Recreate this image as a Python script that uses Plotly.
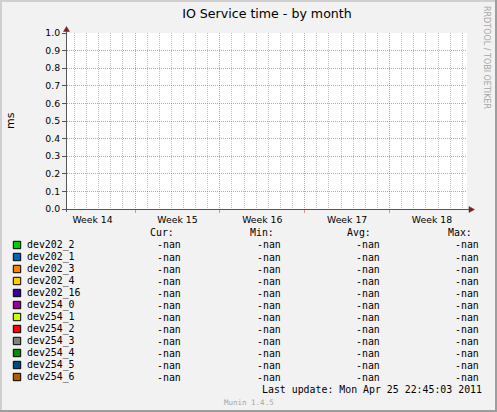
import math
import pandas as pd
import plotly.graph_objects as go

W, H = 497, 412
NAN = float("nan")

# ---------------- data ----------------
series_names = ["dev202_2", "dev202_1", "dev202_3", "dev202_4", "dev202_16", "dev254_0",
                "dev254_1", "dev254_2", "dev254_3", "dev254_4", "dev254_5", "dev254_6"]
series_colors = ["#00CC00", "#0066B3", "#FF8000", "#FFCC00", "#330099", "#990099",
                 "#CCFF00", "#FF0000", "#808080", "#008F00", "#00487D", "#B35A00"]
cur_values = [NAN, NAN, NAN, NAN, NAN, NAN, NAN, NAN, NAN, NAN, NAN, NAN]
min_values = [NAN, NAN, NAN, NAN, NAN, NAN, NAN, NAN, NAN, NAN, NAN, NAN]
avg_values = [NAN, NAN, NAN, NAN, NAN, NAN, NAN, NAN, NAN, NAN, NAN, NAN]
max_values = [NAN, NAN, NAN, NAN, NAN, NAN, NAN, NAN, NAN, NAN, NAN, NAN]
sample_time = ["2011-04-25 22:45:03"]

week_starts = ["2011-04-04", "2011-04-11", "2011-04-18", "2011-04-25", "2011-05-02"]
week_labels = ["Week 14", "Week 15", "Week 16", "Week 17", "Week 18"]
y_ticks = [0.0, 0.1, 0.2, 0.3, 0.4, 0.5, 0.6, 0.7, 0.8, 0.9, 1.0]
x_range = ["2011-04-05 09:22:00", "2011-05-08 09:22:00"]
y_range = [0.0, 1.0]

title_text = "IO Service time - by month"
y_title = "ms"
column_headers = ["Cur:", "Min:", "Avg:", "Max:"]
last_update = "Last update: Mon Apr 25 22:45:03 2011"
footer = "Munin 1.4.5"
watermark = "RRDTOOL / TOBI OETIKER"

# ---------------- style ----------------
BG = "#F2F2F2"
AXIS = "#555555"
ARROW = "#7F1F1F"
MGRID = "rgba(230,70,70,0.6)"
GRID = "rgba(140,140,140,0.5)"
SANS = "DejaVu Sans"
MONO = "DejaVu Sans Mono"

def px(x):
    return x / W

def py(y):
    return 1 - y / H

def fmt(v):
    return "-nan" if (v is None or (isinstance(v, float) and math.isnan(v))) else "%.2f" % v

PL, PR, PT, PB = 67, 467, 33, 209

# labels sit in the middle of each week period
week_mids = [(pd.Timestamp(d) + pd.Timedelta(hours=84)).strftime("%Y-%m-%d %H:%M:%S") for d in week_starts]
# daily minor grid, skipping the week boundaries
week_set = set(pd.Timestamp(d) for d in week_starts)
day_lines = [d.strftime("%Y-%m-%d") for d in pd.date_range(week_starts[0], x_range[1], freq="D")
             if d not in week_set]

fig = go.Figure()
for i, name in enumerate(series_names):
    fig.add_trace(go.Scatter(x=sample_time, y=[cur_values[i]], mode="lines",
                             name=name, line=dict(color=series_colors[i], width=1),
                             showlegend=False, hoverinfo="skip"))
# helper trace for the label axis
fig.add_trace(go.Scatter(x=sample_time, y=[cur_values[0]], xaxis="x2", mode="lines",
                         showlegend=False, hoverinfo="skip"))

tickfont = dict(family=SANS, size=9.3, color="#000000")
fig.update_layout(
    width=W, height=H, autosize=False,
    margin=dict(l=0, r=0, t=0, b=0, pad=0, autoexpand=False),
    paper_bgcolor=BG, plot_bgcolor="#FFFFFF",
    showlegend=False,
    title=dict(text=title_text, x=267 / W, xref="paper", xanchor="center",
               y=py(13.5), yref="paper", yanchor="middle", automargin=False,
               font=dict(family=SANS, size=12.6, color="#000000")),
    xaxis=dict(
        type="date", range=x_range, domain=[px(PL), px(PR)], automargin=False,
        tickmode="array", tickvals=week_starts, ticktext=["", "", "", "", ""],
        showgrid=True, gridcolor=MGRID, griddash="1px,1px", gridwidth=1,
        minor=dict(tickmode="array", tickvals=day_lines,
                   showgrid=True, gridcolor=GRID, griddash="1px,1px", gridwidth=1,
                   ticks=""),
        ticks="outside", ticklen=3, tickcolor=MGRID, tickwidth=1,
        showline=True, linecolor=AXIS, linewidth=1,
        zeroline=False, fixedrange=True, tickfont=tickfont,
    ),
    xaxis2=dict(
        type="date", range=x_range, overlaying="x", side="bottom", anchor="y",
        automargin=False,
        tickmode="array", tickvals=week_mids, ticktext=week_labels,
        showgrid=False, ticks="outside", ticklen=2, tickcolor="rgba(0,0,0,0)",
        showline=False, zeroline=False, fixedrange=True, tickfont=tickfont,
    ),
    yaxis=dict(
        range=y_range, domain=[py(PB), py(PT)], automargin=False,
        tickmode="array", tickvals=y_ticks, tickformat=".1f",
        showgrid=True, gridcolor=MGRID, griddash="1px,1px", gridwidth=1,
        ticks="outside", ticklen=4, tickcolor=AXIS, tickwidth=1,
        showline=True, linecolor=AXIS, linewidth=1,
        zeroline=False, fixedrange=True, tickfont=tickfont,
    ),
)

shapes = []
ann = []

# frame shading
shapes.append(dict(type="rect", xref="paper", yref="paper", x0=0, x1=1, y0=py(2), y1=1,
                   fillcolor="#CFCFCF", line=dict(width=0), layer="below"))
shapes.append(dict(type="rect", xref="paper", yref="paper", x0=0, x1=px(2), y0=0, y1=1,
                   fillcolor="#CFCFCF", line=dict(width=0), layer="below"))
shapes.append(dict(type="rect", xref="paper", yref="paper", x0=px(W - 2), x1=1, y0=0, y1=1,
                   fillcolor="#9E9E9E", line=dict(width=0), layer="below"))
shapes.append(dict(type="rect", xref="paper", yref="paper", x0=0, x1=1, y0=0, y1=py(H - 2),
                   fillcolor="#9E9E9E", line=dict(width=0), layer="below"))

# axis extensions and arrows
shapes.append(dict(type="line", xref="paper", yref="paper", x0=px(PL - 0.5), x1=px(PL - 0.5),
                   y0=py(PB + 3), y1=py(PT - 3), line=dict(color=AXIS, width=1)))
shapes.append(dict(type="line", xref="paper", yref="paper", x0=px(PL - 4), x1=px(PR + 3),
                   y0=py(PB + 0.5), y1=py(PB + 0.5), line=dict(color=AXIS, width=1)))
shapes.append(dict(type="path", xref="paper", yref="paper",
                   path="M %f,%f L %f,%f L %f,%f Z" % (px(PL - 3.5), py(PT - 1.5), px(PL + 2.5), py(PT - 1.5),
                                                       px(PL - 0.5), py(PT - 6.5)),
                   fillcolor=ARROW, line=dict(color=ARROW, width=0.5)))
shapes.append(dict(type="path", xref="paper", yref="paper",
                   path="M %f,%f L %f,%f L %f,%f Z" % (px(PR + 2), py(PB - 2.5), px(PR + 2), py(PB + 3.5),
                                                       px(PR + 7.5), py(PB + 0.5)),
                   fillcolor=ARROW, line=dict(color=ARROW, width=0.5)))

def text(x, y, s, size=9.9, family=MONO, color="#000000", xanchor="left", angle=0):
    ann.append(dict(xref="paper", yref="paper", x=px(x), y=py(y), text=s, showarrow=False,
                    xanchor=xanchor, yanchor="middle", borderpad=0, borderwidth=0,
                    textangle=angle, font=dict(family=family, size=size, color=color)))

# y title and watermark
text(11, 121, y_title, size=11, family=SANS, xanchor="center", angle=-90)
text(487, 57, watermark, size=8, family=SANS, color="#A6A6A6", xanchor="center", angle=90)

# legend table
col_head_x = [150, 250, 346.7, 447.7]
col_val_x = [156.7, 256.7, 356, 454.7]
for hx, h in zip(col_head_x, column_headers):
    text(hx, 232.3, h)
ROW0, ROWSTEP = 245, 12
for i, name in enumerate(series_names):
    ry = ROW0 + ROWSTEP * i
    shapes.append(dict(type="rect", xref="paper", yref="paper",
                       x0=px(13.3), x1=px(20.7), y0=py(ry + 3.7), y1=py(ry - 3.7),
                       fillcolor=series_colors[i], line=dict(color="#000000", width=1)))
    text(26.7, ry, name)
    for cx, vals in zip(col_val_x, [cur_values, min_values, avg_values, max_values]):
        text(cx, ry, fmt(vals[i]))

text(261.7, 389.3, last_update)
text(249, 402, footer, size=7.5, color="#A6A6A6", xanchor="center")

fig.update_layout(shapes=shapes, annotations=ann)
fig.write_html("out.html", config={"displayModeBar": False},
               post_script="document.body.style.margin='0';document.body.style.overflow='hidden';")
